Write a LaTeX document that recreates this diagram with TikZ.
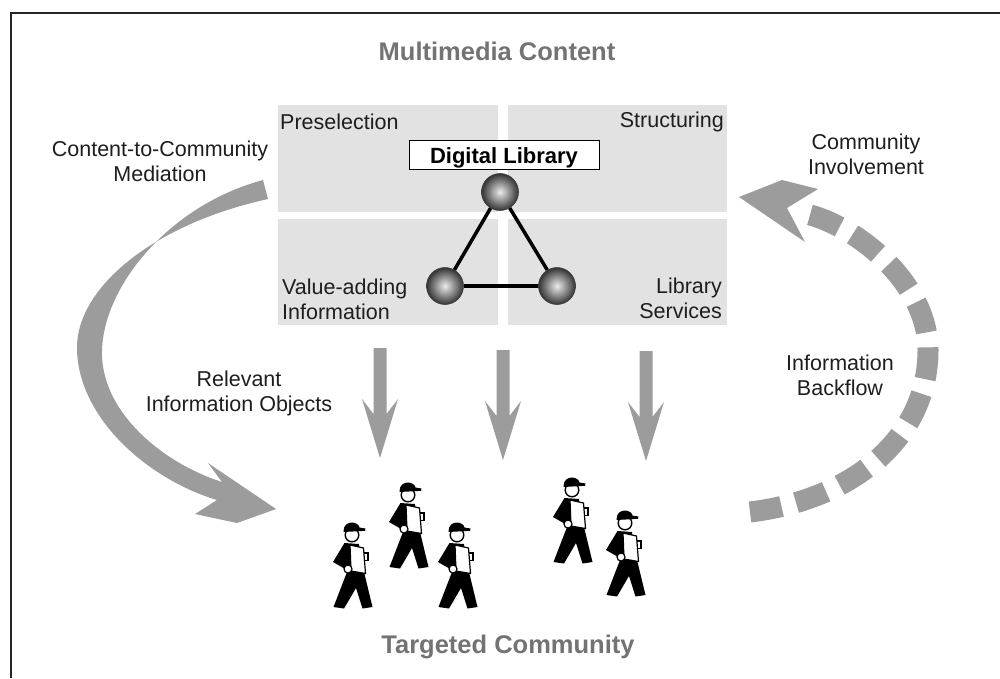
\documentclass[tikz,border=0pt]{standalone}
\usepackage{fontspec}
\setmainfont{Liberation Sans}
\definecolor{panelgray}{HTML}{E2E2E2}
\definecolor{flowgray}{HTML}{9C9C9C}
\definecolor{headgray}{HTML}{737373}
\definecolor{inkgray}{HTML}{1E1E1E}
\tikzset{
  txt/.style={font=\fontsize{21.5}{25}\selectfont, text=inkgray, inner sep=0pt},
  headline/.style={font=\fontsize{25.5}{30}\selectfont\bfseries, text=headgray, inner sep=0pt},
  panel/.style={fill=panelgray},
  flow/.style={fill=flowgray},
  sphere/.style={circle, minimum size=37pt, inner sep=0pt, draw=black!75, line width=0.6pt,
    shading=radial, inner color=gray!15, outer color=black!80},
  tie/.style={line width=3.5pt, black},
  framing/.style={line width=2.5pt, black!85},
  % gray block arrow pointing down, origin at the top of its shaft
  downarrow/.pic={
    \fill[flow] (-6.5,0) -- (6.5,0) -- (6.5,66) -- (18,51) -- (0,110)
      -- (-18,51) -- (-6.5,66) -- cycle;
  },
  % walking person carrying a folder, origin at the head centre
  walker/.pic={
    \fill[black] (-5,37) -- (12,37) -- (20.5,72) -- (10.5,73.5) -- (4,53) -- (-8,73.5)
      -- (-18.5,72) -- cycle;
    \fill[black] (-7.5,8) -- (7,9) -- (10.5,41) -- (-4.5,41) -- (-5,35) -- (-19,27) -- cycle;
    \filldraw[fill=white, draw=black, line width=1.2pt]
      (-2,10) -- (11.5,13) -- (13.5,38.5) -- (-1,36) -- cycle;
    \draw[black, line width=1.2pt] (12.4,18) -- (16,18) -- (16,25.5) -- (12.8,25.5);
    \filldraw[fill=white, draw=black, line width=1.2pt] (-4,34) circle (4);
    \filldraw[fill=white, draw=black, line width=1.4pt] (0,0) circle (6.8);
    \fill[black] (-8.5,-4) .. controls (-8.5,-10) and (-4,-12.5) .. (0,-12.5)
      .. controls (4,-12.5) and (7,-10) .. (7.5,-7.5) -- (13.5,-6.5) -- (13,-4.2)
      -- (-8.5,-3) -- cycle;
  }
}
\begin{document}
\begin{tikzpicture}[x=1pt,y=-1pt]
\useasboundingbox (0,0) rectangle (1000,678);
\fill[white] (0,0) rectangle (1000,678);

% outer frame (top and left edges)
\draw[framing] (11,678) -- (11,13) -- (1000,13);

% titles
\node[headline, anchor=base] (content) at (497,60) {Multimedia Content};
\node[headline, anchor=base] (community) at (508,653) {Targeted Community};

% four library panels
\fill[panel] (278,105) rectangle (498,212);
\fill[panel] (508,105) rectangle (727,212);
\fill[panel] (278,219) rectangle (498,325);
\fill[panel] (508,219) rectangle (727,325);

\node[txt, anchor=base west] (presel) at (280,129) {Preselection};
\node[txt, anchor=base east] (struct) at (724,127) {Structuring};
\node[txt, anchor=west, align=left] (value) at (282,299.5) {Value-adding\\Information};
\node[txt, anchor=east, align=right] (services) at (722,298.5) {Library\\Services};

% digital library title box
\node[draw=black, line width=0.8pt, fill=white, minimum width=190pt, minimum height=29pt,
  inner sep=0pt] (dlbox) at (504,154.5) {};
\node[font=\fontsize{22}{26}\selectfont\bfseries, text=black, inner sep=0pt, anchor=base]
  (dltext) at (504,163) {Digital Library};

% triangle of spheres
\node[sphere] (top) at (500,192) {};
\node[sphere] (left) at (445,286) {};
\node[sphere] (right) at (557,286) {};
\draw[tie] (top) -- (left);
\draw[tie] (top) -- (right);
\draw[tie] (left) -- (right);

% downward flows to the community
\pic at (380,348) {downarrow};
\pic at (503,350) {downarrow};
\pic at (646,351) {downarrow};

% curved mediation arrow on the left
\fill[flow] (268,199) .. controls (150,225) and (75,290) .. (77,350)
  .. controls (79,420) and (150,480) .. (217,500)
  -- (195,514) -- (237,523) -- (276,509) -- (208,463) -- (222,482)
  .. controls (160,462) and (100,410) .. (102,350)
  .. controls (104,285) and (170,205) .. (263,180) -- cycle;

% dashed backflow arrow on the right
\draw[flowgray, line width=21pt, dash pattern=on 32pt off 15pt]
  (750,512) .. controls (850,500) and (928,440) .. (928,350)
  .. controls (928,280) and (850,220) .. (797,212);
\fill[flow] (739,197) -- (782,180) -- (818,189) -- (787,208) -- (805,242) -- cycle;

% side labels
\node[txt, align=center] (mediation) at (160,161.5) {Content-to-Community\\Mediation};
\node[txt, align=center] (involve) at (866,154) {Community\\Involvement};
\node[txt, align=center] (backflow) at (840,375) {Information\\Backflow};
\node[txt, align=center] (relevant) at (239,393) {Relevant\\Information Objects};

% the community
\pic at (352,535) {walker};
\pic at (408,495) {walker};
\pic at (457,535) {walker};
\pic at (572,490) {walker};
\pic at (625,523) {walker};
\end{tikzpicture}
\end{document}
